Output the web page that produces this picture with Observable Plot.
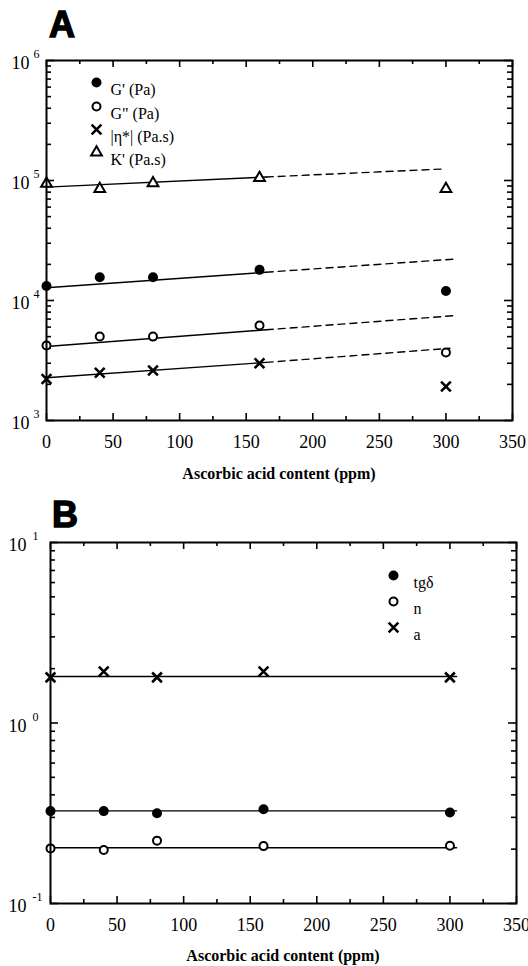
<!DOCTYPE html>
<html><head><meta charset="utf-8">
<script src="https://cdn.jsdelivr.net/npm/d3@7"></script>
<script src="https://cdn.jsdelivr.net/npm/@observablehq/plot@0.6"></script>
<style>
body{margin:0;background:#fff;}
#wrap{position:relative;width:528px;height:966px;overflow:hidden;background:#fff;}
.p{position:absolute;left:0;}
#ov{position:absolute;left:0;top:0;pointer-events:none;}
</style></head><body>
<div id="wrap">
<div class="p" id="pa" style="top:0px"></div>
<div class="p" id="pb" style="top:480px"></div>
<svg id="ov" width="528" height="966">
  <text x="49" y="37" font-family="Liberation Sans" font-weight="bold" font-size="36" stroke="#000" stroke-width="1.4">A</text>
  <text x="52" y="527" font-family="Liberation Sans" font-weight="bold" font-size="36" stroke="#000" stroke-width="1.4">B</text>
  <text x="279" y="479" text-anchor="middle" font-family="Liberation Serif" font-weight="bold" font-size="16">Ascorbic acid content (ppm)</text>
  <text x="283" y="961" text-anchor="middle" font-family="Liberation Serif" font-weight="bold" font-size="16">Ascorbic acid content (ppm)</text>
</svg>
</div>
<script>
// ---------- data ----------
const ascorbic = [0, 40, 80, 160, 300];
const xTicks = [0, 50, 100, 150, 200, 250, 300, 350];
const xMinorTicks = [25, 75, 125, 175, 225, 275, 325];

// Panel A
const gPrime  = [1.32e4, 1.56e4, 1.56e4, 1.80e4, 1.20e4];
const gDouble = [4.22e3, 5.01e3, 5.00e3, 6.19e3, 3.69e3];
const etaStar = [2.22e3, 2.50e3, 2.61e3, 3.00e3, 1.92e3];
const kPrime  = [9.4e4, 8.5e4, 9.5e4, 1.05e5, 8.5e4];
// fitted lines: [start, end of solid part, end of dashed part]
const gPrimeFitX  = [0, 165, 308];
const gPrimeFit   = [1.276e4, 1.72e4, 2.22e4];
const gDoubleFitX = [0, 165, 308];
const gDoubleFit  = [4.14e3, 5.7e3, 7.5e3];
const etaStarFitX = [0, 165, 303];
const etaStarFit  = [2.27e3, 3.05e3, 4.0e3];
const kPrimeFitX  = [0, 165, 300];
const kPrimeFit   = [8.8e4, 1.07e5, 1.25e5];
const legendA = ["G' (Pa)", "G\" (Pa)", "|η*| (Pa.s)", "K' (Pa.s)"];
const yTicksA = [1e3, 1e4, 1e5, 1e6];
const yExpA = ["3", "4", "5", "6"];

// Panel B
const tgDelta = [0.325, 0.325, 0.316, 0.333, 0.319];
const nIndex  = [0.202, 0.198, 0.223, 0.208, 0.209];
const aParam  = [1.79, 1.93, 1.79, 1.93, 1.79];
const fitXB = [0, 305];
const tgDeltaFit = [0.326, 0.326];
const nIndexFit  = [0.2035, 0.2035];
const aParamFit  = [1.81, 1.81];
const legendB = ["tgδ", "n", "a"];
const yTicksB = [0.1, 1, 10];
const yExpB = ["-1", "0", "1"];

// ---------- styles ----------
const sym = {
  filled: {symbol: "circle", fill: "black", r: 5},
  open:   {symbol: "circle", fill: "white", stroke: "black", strokeWidth: 2, r: 4},
  times:  {symbol: "times", stroke: "black", strokeWidth: 2.6, r: 4.5},
  tri:    {symbol: "triangle", fill: "white", stroke: "black", strokeWidth: 2, r: 4}
};

function minorLog(decades) {
  const out = [];
  decades.slice(0, -1).forEach(d => { for (let k = 2; k <= 9; k++) out.push(k * d); });
  return out;
}

function pts(xs, ys) { return xs.map((x, i) => ({x, y: ys[i]})); }

function fitLines(xs, ys, dashedTail) {
  const p = pts(xs, ys);
  if (!dashedTail) return [Plot.line(p, {x: "x", y: "y", stroke: "black", strokeWidth: 1.4})];
  return [
    Plot.line(p.slice(0, 2), {x: "x", y: "y", stroke: "black", strokeWidth: 1.4}),
    Plot.line(p.slice(1, 3), {x: "x", y: "y", stroke: "black", strokeWidth: 1.4, strokeDasharray: "7,5"})
  ];
}

function frameTicks(iw, ih, yMajor, yMinor) {
  return [
    Plot.tickX(xTicks, {x: d => d, insetTop: ih - 7, strokeWidth: 1.6}),
    Plot.tickX(xMinorTicks, {x: d => d, insetTop: ih - 4, strokeWidth: 1.6}),
    Plot.tickX(xTicks, {x: d => d, insetBottom: ih - 7, strokeWidth: 1.6}),
    Plot.tickX(xMinorTicks, {x: d => d, insetBottom: ih - 4, strokeWidth: 1.6}),
    Plot.tickY(yMajor, {y: d => d, insetRight: iw - 8, strokeWidth: 1.6}),
    Plot.tickY(yMinor, {y: d => d, insetRight: iw - 5, strokeWidth: 1.6}),
    Plot.tickY(yMajor, {y: d => d, insetLeft: iw - 8, strokeWidth: 1.6}),
    Plot.tickY(yMinor, {y: d => d, insetLeft: iw - 5, strokeWidth: 1.6})
  ];
}

function yLabels(ticks, exps, dxBase, dxExp) {
  const data = ticks.map((t, i) => ({t, e: exps[i]}));
  return [
    Plot.text(data, {y: "t", text: () => "10", frameAnchor: "left", textAnchor: "end", dx: dxBase, dy: 3, fontSize: 18}),
    Plot.text(data, {y: "t", text: "e", frameAnchor: "left", textAnchor: "start", dx: dxExp, dy: -6, fontSize: 12})
  ];
}

function legend(labels, styles, mx, tx, rows) {
  const out = [];
  labels.forEach((lab, i) => {
    out.push(Plot.dot([lab], {frameAnchor: "top-left", dx: mx, dy: rows[i], ...styles[i]}));
    out.push(Plot.text([lab], {frameAnchor: "top-left", text: d => d, dx: tx, dy: rows[i] + 1, textAnchor: "start", fontSize: 16}));
  });
  return out;
}

const font = {fontFamily: "'Liberation Serif', 'Times New Roman', serif", fontSize: "18px", background: "white", overflow: "visible"};

// ---------- Panel A ----------
{
  const mL = 46, mR = 16, mT = 60, mB = 35, H = 455;
  const iw = 528 - mL - mR, ih = H - mT - mB;
  const chart = Plot.plot({
    width: 528, height: H, marginLeft: mL, marginRight: mR, marginTop: mT, marginBottom: mB,
    style: font,
    x: {domain: [0, 350]},
    y: {type: "log", domain: [1e3, 1e6], axis: null},
    marks: [
      Plot.axisX(xTicks, {tickSize: 0, tickPadding: 15, tickFormat: d => String(d), label: null, fontSize: 18}),
      ...frameTicks(iw, ih, yTicksA, minorLog(yTicksA)),
      ...yLabels(yTicksA, yExpA, -17, -13),
      ...fitLines(gPrimeFitX, gPrimeFit, true),
      ...fitLines(gDoubleFitX, gDoubleFit, true),
      ...fitLines(etaStarFitX, etaStarFit, true),
      ...fitLines(kPrimeFitX, kPrimeFit, true),
      Plot.dot(pts(ascorbic, gPrime), {x: "x", y: "y", ...sym.filled}),
      Plot.dot(pts(ascorbic, gDouble), {x: "x", y: "y", ...sym.open}),
      Plot.dot(pts(ascorbic, etaStar), {x: "x", y: "y", ...sym.times}),
      Plot.dot(pts(ascorbic, kPrime), {x: "x", y: "y", ...sym.tri}),
      ...legend(legendA, [sym.filled, sym.open, sym.times, sym.tri], 50, 64, [22, 46, 69, 92]),
      Plot.frame({stroke: "black", strokeWidth: 2})
    ]
  });
  document.getElementById("pa").appendChild(chart);
}

// ---------- Panel B ----------
{
  const mL = 50, mR = 12, mT = 62, mB = 35, H = 458;
  const iw = 528 - mL - mR, ih = H - mT - mB;
  const chart = Plot.plot({
    width: 528, height: H, marginLeft: mL, marginRight: mR, marginTop: mT, marginBottom: mB,
    style: font,
    x: {domain: [0, 350]},
    y: {type: "log", domain: [0.1, 10], axis: null},
    marks: [
      Plot.axisX(xTicks, {tickSize: 0, tickPadding: 15, tickFormat: d => String(d), label: null, fontSize: 18}),
      ...frameTicks(iw, ih, yTicksB, minorLog(yTicksB)),
      ...yLabels(yTicksB, yExpB, -24, -18),
      ...fitLines(fitXB, tgDeltaFit, false),
      ...fitLines(fitXB, nIndexFit, false),
      ...fitLines(fitXB, aParamFit, false),
      Plot.dot(pts(ascorbic, tgDelta), {x: "x", y: "y", ...sym.filled}),
      Plot.dot(pts(ascorbic, nIndex), {x: "x", y: "y", ...sym.open}),
      Plot.dot(pts(ascorbic, aParam), {x: "x", y: "y", ...sym.times}),
      ...legend(legendB, [sym.filled, sym.open, sym.times], 343, 363, [33, 59, 85]),
      Plot.frame({stroke: "black", strokeWidth: 2})
    ]
  });
  document.getElementById("pb").appendChild(chart);
}
</script>
</body></html>
